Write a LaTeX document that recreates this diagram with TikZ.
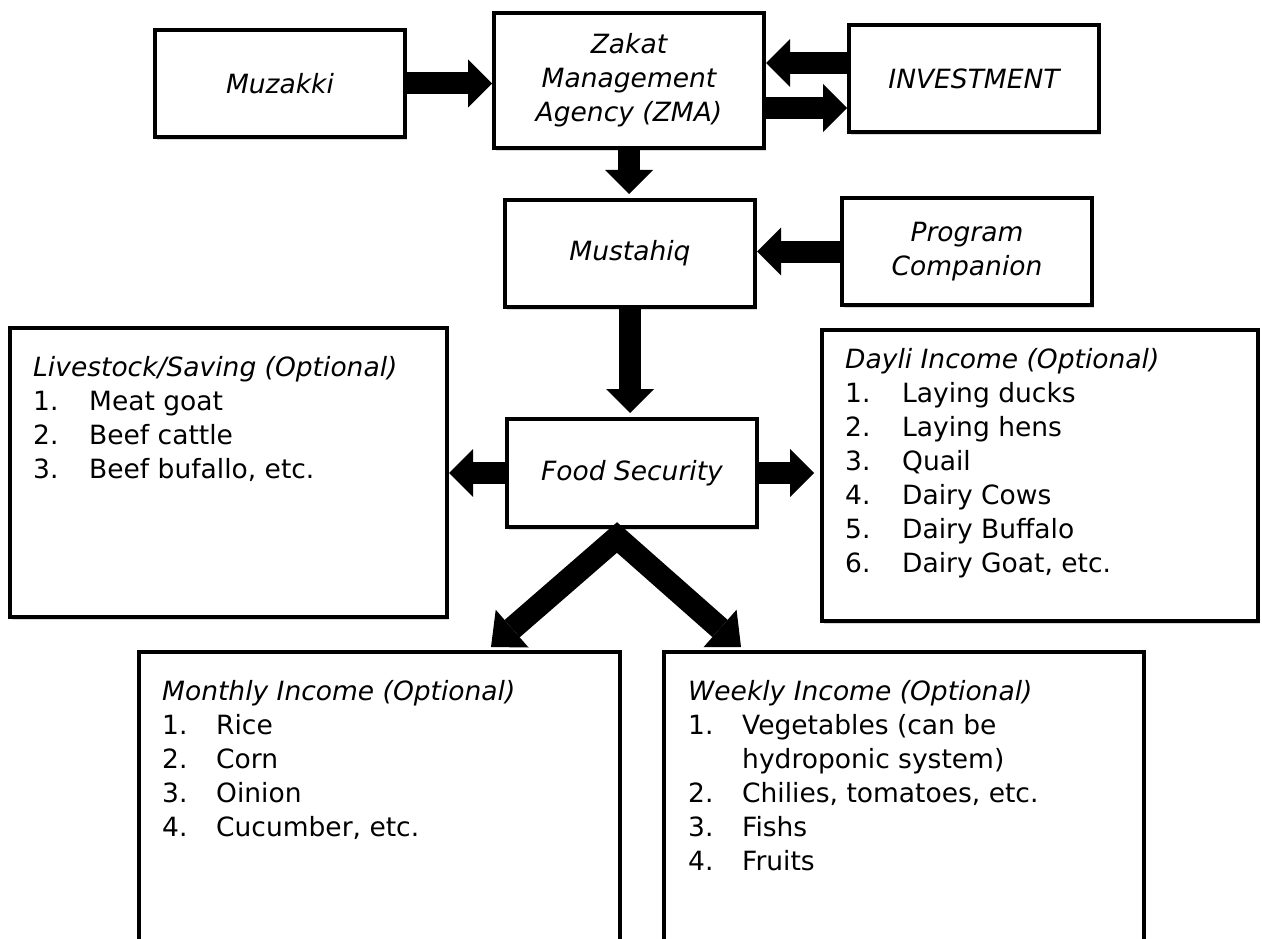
\documentclass[tikz,border=0pt]{standalone}
\usepackage{fontspec}
\setmainfont{DejaVu Sans}
\usetikzlibrary{arrows.meta,shadows,calc}
\begin{document}
\begin{tikzpicture}[x=1pt,y=-1pt,
  every node/.style={font=\fontsize{26.5}{34}\selectfont},
  box/.style={draw=black, line width=4pt, fill=white, inner sep=0pt, align=center,
     font=\fontsize{26.5}{34}\selectfont\itshape, line join=miter,
     drop shadow={shadow xshift=2pt, shadow yshift=-3pt, opacity=0.3}},
  listtxt/.style={anchor=base west, inner sep=0pt},
  bigarrow/.style={line width=22pt, line join=miter,
     -{Triangle[width=48pt,length=24pt,line width=0pt]}},
]
\path[use as bounding box] (0,0) rectangle (1262,939);
\clip (0,0) rectangle (1262,939);
\fill[white] (0,0) rectangle (1262,939);

% top row
\node[box, minimum width=250pt, minimum height=107pt] (muz) at (280,83.5) {Muzakki};
\node[box, minimum width=270pt, minimum height=135pt] (zma) at (629,80.5) {Zakat\\Management\\Agency (ZMA)};
\node[box, minimum width=250pt, minimum height=107pt] (inv) at (974,78.5) {INVESTMENT};

% second row
\node[box, minimum width=250pt, minimum height=107pt] (mus) at (630,253.5) {Mustahiq};
\node[box, minimum width=250pt, minimum height=107pt] (prog) at (967,251.5) {Program\\Companion};

% middle row
\node[box, minimum width=250pt, minimum height=108pt] (food) at (632,473) {Food Security};
\node[box, minimum width=437pt, minimum height=289pt] (live) at (228.5,472.5) {};
\node[box, minimum width=436pt, minimum height=291pt] (dayli) at (1040,475.5) {};

% bottom row (open at the bottom of the page)
\node[box, minimum width=481pt, minimum height=340pt] (month) at (379.5,822) {};
\node[box, minimum width=480pt, minimum height=340pt] (week) at (904,822) {};

% list texts
\node[listtxt] (livetxt) at (33,376) {\begin{tabular}[t]{@{}p{56pt}@{}l@{}}
\multicolumn{2}{@{}l@{}}{\itshape Livestock/Saving (Optional)}\\
1. & Meat goat\\
2. & Beef cattle\\
3. & Beef bufallo, etc.
\end{tabular}};

\node[listtxt] (daylitxt) at (845,368) {\begin{tabular}[t]{@{}p{57pt}@{}l@{}}
\multicolumn{2}{@{}l@{}}{\itshape Dayli Income (Optional)}\\
1. & Laying ducks\\
2. & Laying hens\\
3. & Quail\\
4. & Dairy Cows\\
5. & Dairy Buffalo\\
6. & Dairy Goat, etc.
\end{tabular}};

\node[listtxt] (monthtxt) at (162,700) {\begin{tabular}[t]{@{}p{54pt}@{}l@{}}
\multicolumn{2}{@{}l@{}}{\itshape Monthly Income (Optional)}\\
1. & Rice\\
2. & Corn\\
3. & Oinion\\
4. & Cucumber, etc.
\end{tabular}};

\node[listtxt] (weektxt) at (688,700) {\begin{tabular}[t]{@{}p{54pt}@{}l@{}}
\multicolumn{2}{@{}l@{}}{\itshape Weekly Income (Optional)}\\
1. & Vegetables (can be\\
   & hydroponic system)\\
2. & Chilies, tomatoes, etc.\\
3. & Fishs\\
4. & Fruits
\end{tabular}};

% connectors
\draw[bigarrow] (muz.east) -- (muz.east -| zma.west);
\draw[bigarrow] (inv.west |- 0,63) -- (zma.east |- 0,63);
\draw[bigarrow] (zma.east |- 0,108) -- (inv.west |- 0,108);
\draw[bigarrow] (zma.south) -- ($(zma.south |- mus.north)+(0,-4)$);
\draw[bigarrow] (prog.west) -- (prog.west -| mus.east);
\draw[bigarrow] (mus.south) -- ($(mus.south |- food.north)+(0,-4)$);
\draw[bigarrow] (food.west) -- (food.west -| live.east);
\draw[bigarrow] (food.east) -- ($(food.east -| dayli.west)+(-6,0)$);

\coordinate (apex) at ($(food.south)+(-15,8.5)$);
\coordinate (ml) at ($(month.north)+(111.5,-3)$);
\coordinate (wr) at ($(week.north)+(-163,-3)$);
\draw[line width=23pt, line join=miter,
  {Triangle[width=50pt,length=28pt,line width=0pt]}-{Triangle[width=50pt,length=28pt,line width=0pt]}]
  (ml) -- (apex) -- (wr);
\end{tikzpicture}
\end{document}
